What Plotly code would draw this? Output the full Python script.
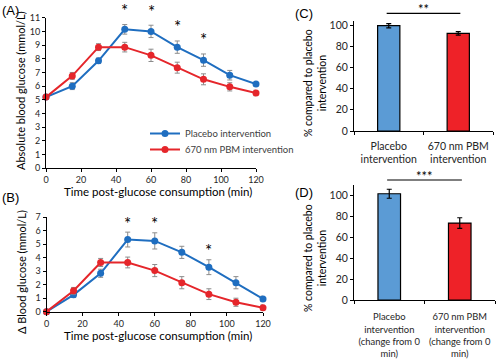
import plotly.graph_objects as go

# ---- data ----
times = [0, 15, 30, 45, 60, 75, 90, 105, 120]

abs_placebo = [5.2, 6.0, 7.85, 10.15, 10.0, 8.85, 7.9, 6.8, 6.15]
abs_placebo_err = [0.1, 0.25, 0.2, 0.35, 0.45, 0.45, 0.45, 0.35, 0.12]
abs_pbm = [5.2, 6.75, 8.85, 8.85, 8.25, 7.35, 6.5, 5.95, 5.5]
abs_pbm_err = [0.1, 0.25, 0.25, 0.35, 0.45, 0.4, 0.4, 0.3, 0.2]
abs_sig_times = [45, 60, 75, 90]

d_placebo = [0, 1.25, 2.85, 5.35, 5.25, 4.4, 3.3, 2.15, 0.95]
d_placebo_err = [0, 0.2, 0.3, 0.55, 0.6, 0.45, 0.55, 0.45, 0.2]
d_pbm = [0, 1.55, 3.65, 3.65, 3.05, 2.15, 1.3, 0.7, 0.3]
d_pbm_err = [0, 0.25, 0.3, 0.4, 0.45, 0.45, 0.4, 0.3, 0.2]
d_sig_times = [45, 60, 90]

c_labels = ["Placebo<br>intervention", "670 nm PBM<br>intervention"]
c_values = [99.4, 92.1]
c_err = [2.0, 1.7]
c_sig = "**"

d_labels = ["Placebo<br>intervention<br>(change from 0<br>min)",
            "670 nm PBM<br>intervention<br>(change from 0<br>min)"]
d_values = [101.9, 73.8]
d_err = [4.3, 5.1]
d_sig = "***"

series_names = ["Placebo intervention", "670 nm PBM intervention"]
line_colors = ["#1F6EC0", "#E5262B"]
bar_colors = ["#5B9BD5", "#EE2228"]

FONT = "Lato"
W, H = 500, 363

def px_x(p):
    return p / W

def px_y(p):
    return 1 - p / H

fig = go.Figure()

# ---- panel A ----
legends = ["legend", "legend2"]
for k, (vals, errs, name, col) in enumerate([(abs_placebo, abs_placebo_err, series_names[0], line_colors[0]),
                                             (abs_pbm, abs_pbm_err, series_names[1], line_colors[1])]):
    fig.add_trace(go.Scatter(
        x=times, y=vals, name=name, mode="lines+markers",
        line=dict(color=col, width=2), marker=dict(color=col, size=7),
        error_y=dict(type="data", array=errs, color="#8C8C8C", thickness=1, width=2.5),
        xaxis="x", yaxis="y", cliponaxis=False, showlegend=True, legend=legends[k]))

# ---- panel B ----
for vals, errs, name, col in [(d_placebo, d_placebo_err, series_names[0], line_colors[0]),
                              (d_pbm, d_pbm_err, series_names[1], line_colors[1])]:
    fig.add_trace(go.Scatter(
        x=times, y=vals, name=name, mode="lines+markers",
        line=dict(color=col, width=2), marker=dict(color=col, size=7),
        error_y=dict(type="data", array=errs, color="#8C8C8C", thickness=1, width=2.5),
        xaxis="x2", yaxis="y2", cliponaxis=False, showlegend=False))

# ---- panel C ----
fig.add_trace(go.Bar(
    x=c_labels, y=c_values, marker=dict(color=bar_colors, line=dict(color="black", width=1.2)),
    error_y=dict(type="data", array=c_err, color="black", thickness=1.2, width=2.5),
    xaxis="x3", yaxis="y3", showlegend=False))

# ---- panel D ----
fig.add_trace(go.Bar(
    x=d_labels, y=d_values, marker=dict(color=bar_colors, line=dict(color="black", width=1.2)),
    error_y=dict(type="data", array=d_err, color="black", thickness=1.2, width=2.5),
    xaxis="x4", yaxis="y4", showlegend=False))

tickfont_small = dict(family=FONT, size=9, color="#262626")
tickfont_big = dict(family=FONT, size=10.5, color="#262626")
axis_common = dict(showline=True, linecolor="black", linewidth=1, ticks="outside",
                   tickcolor="black", ticklen=3, showgrid=False, zeroline=False,
                   automargin=False, tickangle=0)
legend_common = dict(xanchor="left", yanchor="top",
                     font=dict(family=FONT, size=9.5, color="#404040"),
                     bgcolor="rgba(0,0,0,0)", itemwidth=30)

fig.update_layout(
    width=W, height=H, margin=dict(l=0, r=0, t=0, b=0, autoexpand=False),
    paper_bgcolor="white", plot_bgcolor="white",
    bargap=0.68,
    xaxis=dict(domain=[px_x(46), px_x(256)], range=[0, 120], dtick=20, anchor="y",
               tickfont=tickfont_small, **axis_common),
    yaxis=dict(domain=[px_y(168.3), px_y(17.7)], range=[0, 11], dtick=1, anchor="x",
               tickfont=tickfont_small, **axis_common),
    xaxis2=dict(domain=[px_x(46.5), px_x(263)], range=[0, 120], dtick=20, anchor="y2",
                tickfont=tickfont_small, **axis_common),
    yaxis2=dict(domain=[px_y(311.7), px_y(217.3)], range=[0, 7], dtick=1, anchor="x2",
                tickfont=tickfont_small, **axis_common),
    xaxis3=dict(domain=[px_x(354), px_x(493)], anchor="y3", tickson="boundaries",
                ticklabelstandoff=5, tickfont=tickfont_big, **axis_common),
    yaxis3=dict(domain=[px_y(131), px_y(20.8)], range=[0, 104], tickvals=[0, 20, 40, 60, 80, 100],
                anchor="x3", tickfont=tickfont_big, **axis_common),
    xaxis4=dict(domain=[px_x(354), px_x(495)], anchor="y4", tickson="boundaries",
                ticklabelstandoff=8,
                tickfont=dict(family=FONT, size=9.4, color="#262626"), **axis_common),
    yaxis4=dict(domain=[px_y(300), px_y(185.3)], range=[0, 110], tickvals=[0, 20, 40, 60, 80, 100],
                anchor="x4", tickfont=tickfont_big, **axis_common),
    legend=dict(x=px_x(145), y=px_y(119), **legend_common),
    legend2=dict(x=px_x(145), y=px_y(135), **legend_common),
)

ann = []
# panel labels
for txt, x, y in [("(A)", 0, 10), ("(B)", 0, 198), ("(C)", 293, 13), ("(D)", 293, 192)]:
    ann.append(dict(text=txt, x=px_x(x), y=px_y(y), xref="paper", yref="paper",
                    xanchor="left", yanchor="middle", showarrow=False,
                    font=dict(family="Liberation Sans", size=13, color="black")))

def title_ann(text, x, y, angle, font):
    return dict(text=text, x=px_x(x), y=px_y(y), xref="paper", yref="paper",
                xanchor="center", yanchor="middle", textangle=angle, showarrow=False, font=font)

ytitle_font = dict(family=FONT, size=11, color="black")
xtitle_font = dict(family=FONT, size=11.5, color="black")
ann.append(title_ann("Absolute blood glucose (mmol/L)", 21, 91, -90, ytitle_font))
ann.append(title_ann("Δ Blood glucose (mmol/L)", 21, 272, -90, ytitle_font))
ann.append(title_ann("Time post-glucose consumption (min)", 158, 191, 0, xtitle_font))
ann.append(title_ann("Time post-glucose consumption (min)", 158, 335, 0, xtitle_font))
bar_title_font = dict(family=FONT, size=10.5, color="black")
ann.append(title_ann("% compared to placebo<br>intervention", 315, 83, -90, bar_title_font))
ann.append(title_ann("% compared to placebo<br>intervention", 315, 258, -90, bar_title_font))

# significance asterisks on line panels
for t in abs_sig_times:
    i = times.index(t)
    top = max(abs_placebo[i] + abs_placebo_err[i], abs_pbm[i] + abs_pbm_err[i])
    ann.append(dict(text="*", x=t, y=top, xref="x", yref="y", xanchor="center", yanchor="middle",
                    yshift=14, showarrow=False, font=dict(family=FONT, size=17, color="black")))
for t in d_sig_times:
    i = times.index(t)
    top = max(d_placebo[i] + d_placebo_err[i], d_pbm[i] + d_pbm_err[i])
    ann.append(dict(text="*", x=t, y=top, xref="x2", yref="y2", xanchor="center", yanchor="middle",
                    yshift=9, showarrow=False, font=dict(family=FONT, size=17, color="black")))

# bar significance
ann.append(dict(text=c_sig, x=0.5, y=px_y(9), xref="x3", yref="paper", xanchor="center", yanchor="middle",
                showarrow=False, font=dict(family=FONT, size=13, color="black")))
ann.append(dict(text=d_sig, x=0.5, y=px_y(176), xref="x4", yref="paper", xanchor="center", yanchor="middle",
                showarrow=False, font=dict(family=FONT, size=13, color="black")))
fig.update_layout(annotations=ann)

fig.add_shape(type="line", x0=-0.03, x1=1.03, y0=px_y(13.3), y1=px_y(13.3), xref="x3", yref="paper",
              line=dict(color="black", width=1.2))
fig.add_shape(type="line", x0=-0.03, x1=1.03, y0=px_y(180), y1=px_y(180), xref="x4", yref="paper",
              line=dict(color="black", width=1.2))

fig.write_html("out.html", config={"displayModeBar": False},
               post_script="document.body.style.margin='0';document.body.style.padding='0';")
